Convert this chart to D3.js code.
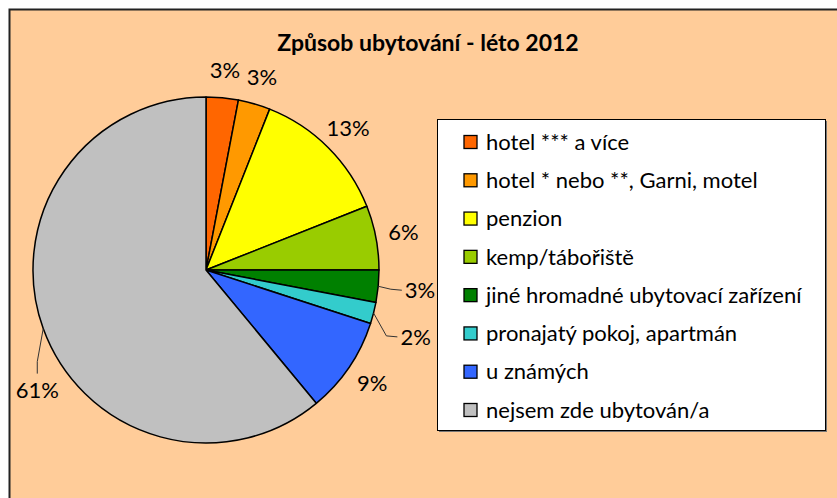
<!DOCTYPE html>
<html>
<head>
<meta charset="utf-8">
<script src="https://cdn.jsdelivr.net/npm/d3@7"></script>
<style>
  html, body { margin: 0; padding: 0; background: #fff; }
  svg { display: block; }
  text { font-family: Lato, "Open Sans", sans-serif; fill: #000; }
</style>
</head>
<body>
<svg id="chart" width="837" height="498"></svg>
<script>
// Accommodation type, summer 2012 (shares in %)
const categories = [
  "hotel *** a více",
  "hotel * nebo **, Garni, motel",
  "penzion",
  "kemp/tábořiště",
  "jiné hromadné ubytovací zařízení",
  "pronajatý pokoj, apartmán",
  "u známých",
  "nejsem zde ubytován/a"
];
const values = [3, 3, 13, 6, 3, 2, 9, 61];
const colors = ["#FF6600", "#FF9900", "#FFFF00", "#99CC00", "#008000", "#33CCCC", "#3366FF", "#C0C0C0"];
const title = "Způsob ubytování - léto 2012";

const W = 837, H = 498;
const svg = d3.select("#chart");

// frame
svg.append("rect").attr("x", 0).attr("y", 0).attr("width", W).attr("height", H).attr("fill", "#fff");
svg.append("rect")
  .attr("x", 9.5).attr("y", 9.5).attr("width", W + 20).attr("height", H + 20)
  .attr("fill", "#FFCC99").attr("stroke", "#222").attr("stroke-width", 2);

svg.append("text")
  .attr("x", 428).attr("y", 51)
  .attr("text-anchor", "middle")
  .attr("font-size", 23).attr("font-weight", "bold")
  .text(title);

// pie
const cx = 206, cy = 270, R = 173;
const pie = d3.pie().sort(null).value(d => d);
const arcs = pie(values);
const arc = d3.arc().innerRadius(0).outerRadius(R);
const color = d3.scaleOrdinal().domain(d3.range(values.length)).range(colors);

const g = svg.append("g").attr("transform", `translate(${cx},${cy})`);
g.selectAll("path.slice")
  .data(arcs)
  .join("path")
  .attr("class", "slice")
  .attr("d", arc)
  .attr("fill", (d, i) => color(i))
  .attr("stroke", "#000")
  .attr("stroke-width", 1.5)
  .attr("stroke-linejoin", "round");

// data labels: default distance, with a few moved outward and tied back by a leader line
const labelRadius = 201;
const labelAdjust = {
  4: { r: 215, da: 0, leader: "side" },
  5: { r: 220, da: 3.3, leader: "side" },
  7: { r: 207, da: -15.6, leader: "top" }
};
const fmt = v => v + "%";
const mid = d => (d.startAngle + d.endAngle) / 2;

const labelFont = 22;
arcs.forEach((d, i) => {
  const adj = labelAdjust[i];
  const a = mid(d) + (adj ? adj.da * Math.PI / 180 : 0);
  const r = adj ? adj.r : labelRadius;
  const x = r * Math.sin(a), y = -r * Math.cos(a);
  const t = g.append("text")
    .attr("x", x).attr("y", y)
    .attr("dy", "0.35em")
    .attr("text-anchor", "middle")
    .attr("font-size", labelFont)
    .text(fmt(values[i]));
  if (adj) {
    const bb = t.node().getBBox();
    const ma = mid(d);
    const ex = R * Math.sin(ma), ey = -R * Math.cos(ma);
    let pts;
    if (adj.leader === "side") {
      const endX = bb.x - 3, endY = y;
      pts = [[ex, ey], [endX - 11, endY - 1], [endX, endY]];
    } else {
      const endX = x, endY = bb.y - 2;
      pts = [[ex, ey], [endX, endY - 12], [endX, endY]];
    }
    g.append("path")
      .attr("d", d3.line()(pts))
      .attr("fill", "none")
      .attr("stroke", "#333")
      .attr("stroke-width", 1);
  }
});

// legend
const lg = svg.append("g").attr("transform", "translate(437,119)");
lg.append("rect").attr("x", 2).attr("y", 2).attr("width", 388).attr("height", 311).attr("fill", "#777");
lg.append("rect").attr("x", 0.5).attr("y", 0.5).attr("width", 388).attr("height", 311)
  .attr("fill", "#fff").attr("stroke", "#000").attr("stroke-width", 1);

const ly = d3.scalePoint().domain(d3.range(categories.length)).range([23, 291]);
const items = lg.selectAll("g.item").data(categories).join("g")
  .attr("class", "item")
  .attr("transform", (d, i) => `translate(0,${ly(i)})`);
items.append("rect")
  .attr("x", 27).attr("y", -6.5).attr("width", 13).attr("height", 13)
  .attr("fill", (d, i) => color(i)).attr("stroke", "#000").attr("stroke-width", 1.3);
items.append("text")
  .attr("x", 49).attr("dy", "0.35em")
  .attr("font-size", 22)
  .text(d => d);
</script>
</body>
</html>
